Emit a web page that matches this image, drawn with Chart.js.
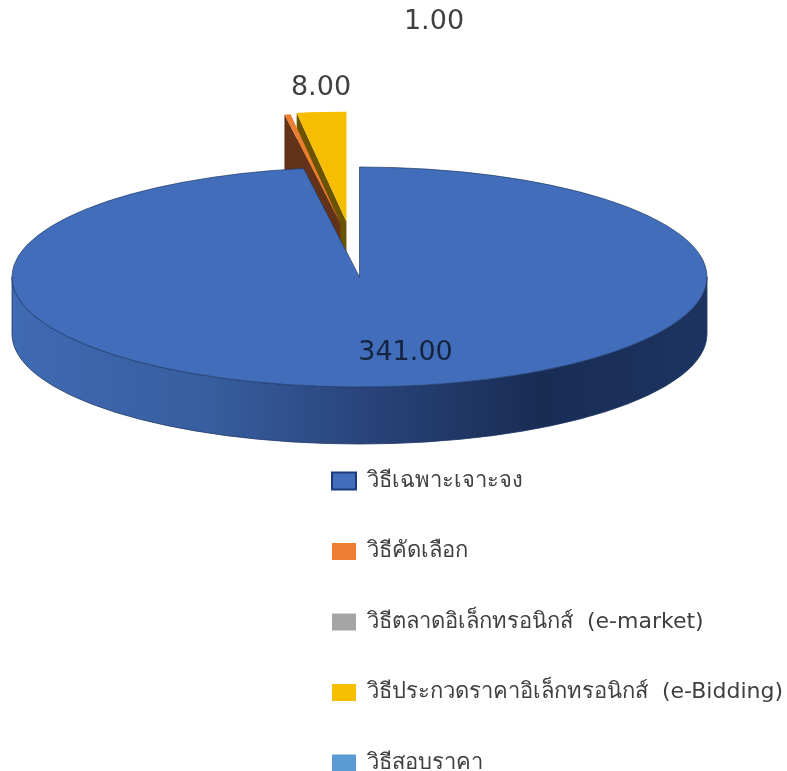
<!DOCTYPE html>
<html lang="th">
<head>
<meta charset="utf-8">
<style>
html,body{margin:0;padding:0;background:#fff;}
#wrap{position:relative;width:787px;height:771px;}
</style>
<script src="https://cdn.jsdelivr.net/npm/chart.js@4"></script>
</head>
<body>
<div id="wrap"><canvas id="c" width="787" height="771"></canvas></div>
<script>
const categories = ["วิธีเฉพาะเจาะจง","วิธีคัดเลือก","วิธีตลาดอิเล็กทรอนิกส์  (e-market)","วิธีประกวดราคาอิเล็กทรอนิกส์  (e-Bidding)","วิธีสอบราคา"];
const values = [341, 1, 0, 8, 0];
const sliceColors = ["#416DBA","#ED7D31","#A5A5A5","#F7BD00","#5B9BD5"];
const wallColors = ["#2f5597","#63321A","#555555","#6B5400","#2f5f8f"];

const FONT = '"DejaVu Sans","Noto Sans",sans-serif';
const geometry = {radius:347.5, squash:110/347.5, centerY:277, depth:57};
const explode = [0, 172, 0, 175, 0];
const nudgeX = [0, 7, 0, -0.5, 0];
const labelSpots = [{x:405.5,y:353},{x:434,y:22},null,{x:321,y:88},null];

function screenPt(chart, el, a){
  const cy = (chart.chartArea.top + chart.chartArea.bottom)/2;
  const py = geometry.centerY + (el.y - cy)*geometry.squash;
  return {x: el.x + el.outerRadius*Math.cos(a),
          y: py + el.outerRadius*geometry.squash*Math.sin(a),
          cx: el.x, cy: py};
}

const pie3d = {
  id:'pie3d',
  afterDatasetsUpdate(chart){
    chart.getDatasetMeta(0).data.forEach((el,i)=>{
      const mid=(el.startAngle+el.endAngle)/2;
      el.x += Math.cos(mid)*explode[i] + nudgeX[i];
      el.y += Math.sin(mid)*explode[i];
    });
  },
  afterLayout(chart){
    const lg = chart.legend;
    const opts = chart.options.plugins.legend.labels;
    lg.left = 332 - opts.padding;
    lg.top = 481 - opts.padding - opts.font.size/2;
    lg.right = lg.left + lg.width;
    lg.bottom = 2000;
  },
  beforeDatasetsDraw(chart){
    const ctx = chart.ctx, arcs = chart.getDatasetMeta(0).data, d = geometry.depth;
    // exploded wedges: radial face on their leading edge, rear wedge first
    [3,1].forEach(i=>{
      const el = arcs[i], p = screenPt(chart, el, el.startAngle);
      ctx.beginPath();
      ctx.moveTo(p.cx,p.cy); ctx.lineTo(p.x,p.y);
      ctx.lineTo(p.x,p.y+d); ctx.lineTo(p.cx,p.cy+d);
      ctx.closePath();
      ctx.fillStyle = wallColors[i]; ctx.fill();
    });
    // main slice: outer wall, front half
    const el = arcs[0], p = screenPt(chart, el, 0);
    const rx = el.outerRadius, ry = rx*geometry.squash;
    const g = ctx.createLinearGradient(p.cx-rx,0,p.cx+rx,0);
    g.addColorStop(0,'#3F6AB4'); g.addColorStop(0.28,'#375E9F'); g.addColorStop(0.5,'#2A457C');
    g.addColorStop(0.76,'#182C54'); g.addColorStop(1,'#1D3462');
    ctx.beginPath();
    ctx.ellipse(p.cx,p.cy,rx,ry,0,0,Math.PI,false);
    ctx.lineTo(p.cx-rx,p.cy+d);
    ctx.ellipse(p.cx,p.cy+d,rx,ry,0,Math.PI,0,true);
    ctx.closePath();
    ctx.fillStyle = g; ctx.fill();
    ctx.lineWidth = 0.8; ctx.strokeStyle = '#1F3864'; ctx.stroke();
    // squash the tops drawn by the library
    const cy = (chart.chartArea.top + chart.chartArea.bottom)/2;
    ctx.save();
    ctx.translate(0,geometry.centerY);
    ctx.scale(1,geometry.squash);
    ctx.translate(0,-cy);
  },
  afterDatasetsDraw(chart){
    chart.ctx.restore();
  },
  afterDraw(chart){
    const ctx = chart.ctx;
    ctx.save();
    ctx.font = '27px '+FONT;
    ctx.textAlign='center'; ctx.textBaseline='middle';
    values.forEach((v,i)=>{
      const s = labelSpots[i];
      if(!s) return;
      ctx.fillStyle = i===0 ? '#14233f' : '#404040';
      ctx.fillText(v.toFixed(2), s.x, s.y);
    });
    ctx.restore();
  }
};

new Chart(document.getElementById('c'),{
  type:'pie',
  data:{labels:categories,datasets:[{
    data:values,
    backgroundColor:sliceColors,
    borderColor:["#1F3864","#ED7D31","#A5A5A5","#F7BD00","#5B9BD5"],
    borderWidth:[1,0,0,0,0],
    clip:false
  }]},
  options:{
    responsive:false,
    animation:false,
    events:[],
    radius:geometry.radius,
    layout:{padding:{right:68}},
    plugins:{
      tooltip:{enabled:false},
      title:{display:false},
      legend:{
        position:'chartArea',
        align:'start',
        labels:{
          boxWidth:24,boxHeight:17,padding:48.5,color:'#404040',
          font:{size:22,family:FONT},
          generateLabels(chart){
            return Chart.overrides.pie.plugins.legend.labels.generateLabels(chart).map((it,i)=>{
              it.lineWidth = i===0 ? 2 : 0;
              it.strokeStyle = '#1A3A7C';
              return it;
            });
          }
        }
      }
    }
  },
  plugins:[pie3d]
});
</script>
</body>
</html>
